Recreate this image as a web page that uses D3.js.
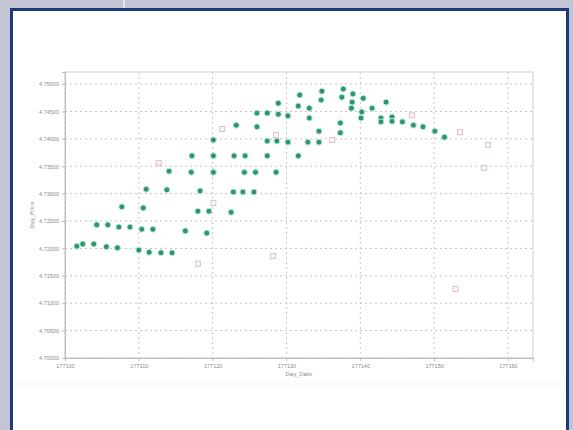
<!DOCTYPE html>
<html><head><meta charset="utf-8">
<script src="https://cdn.jsdelivr.net/npm/d3@7"></script>
<style>
html,body{margin:0;padding:0;background:#c3c5d5;}
svg{display:block;font-family:"DejaVu Sans",sans-serif;}
</style></head>
<body>
<svg id="chart" width="573" height="430"></svg>
<script>
// ---- data ----
const xTicks = [177100, 177110, 177120, 177130, 177140, 177150, 177160];
const yTicks = [4.700, 4.705, 4.710, 4.715, 4.720, 4.725, 4.730, 4.735, 4.740, 4.745, 4.750];
const xTitle = "Day_Date";
const yTitle = "Day_Price";
// main series (green)
const mainX = [177131.8,177128.9,177131.6,177133.1,177126.0,177127.4,177128.9,177130.2,177133.1,177123.2,
  177126.0,177120.1,177127.4,177128.7,177130.2,177132.9,177117.2,177120.1,177122.9,177124.4,
  177127.4,177131.6,177114.1,177117.1,177120.1,177124.3,177125.8,177128.6,177111.0,177113.8,
  177118.3,177122.8,177124.1,177125.6,177107.7,177110.6,177118.0,177119.5,177122.5,177104.3,
  177105.8,177107.3,177108.8,177110.4,177111.9,177116.3,177119.2,177102.4,177103.9,177105.6,
  177107.1,177110.0,177111.4,177113.0,177114.5,177101.6,177134.8,177134.7,177137.7,177137.5,
  177139.0,177138.9,177140.4,177138.8,177140.2,177141.6,177143.5,177140.1,177137.3,177134.4,
  177137.3,177142.8,177142.8,177144.3,177144.3,177145.7,177147.2,177148.5,177150.1,177151.4,
  177134.4];
const mainY = [4.7480,4.7465,4.7460,4.7456,4.7447,4.7447,4.7445,4.7442,4.7438,4.7425,
  4.7422,4.7398,4.7396,4.7396,4.7394,4.7394,4.7369,4.7369,4.7369,4.7369,
  4.7369,4.7369,4.7341,4.7339,4.7339,4.7339,4.7339,4.7339,4.7308,4.7307,
  4.7305,4.7303,4.7303,4.7303,4.7276,4.7274,4.7268,4.7268,4.7266,4.7243,
  4.7243,4.7239,4.7239,4.7235,4.7235,4.7232,4.7228,4.7208,4.7208,4.7203,
  4.7201,4.7197,4.7193,4.7192,4.7192,4.7204,4.7487,4.7471,4.7491,4.7476,
  4.7482,4.7467,4.7474,4.7456,4.7449,4.7456,4.7467,4.7438,4.7429,4.7414,
  4.7411,4.7438,4.7431,4.7440,4.7432,4.7431,4.7425,4.7422,4.7414,4.7403,
  4.7394];
// secondary series (pale pink, hollow)
const otherX = [177121.3,177128.6,177112.7,177120.1,177118.0,177128.2,177136.2,177147.0,177153.5,177157.3,177156.8,177152.9];
const otherY = [4.7418,4.7407,4.7356,4.7283,4.7172,4.7186,4.7398,4.7443,4.7412,4.7389,4.7347,4.7126];

// ---- drawing ----
const svg = d3.select("#chart");
// panel
svg.append("line").attr("x1",124).attr("x2",124).attr("y1",0).attr("y2",9)
  .attr("stroke","#e4e5ee").attr("stroke-width",2);
svg.append("rect").attr("x",11.5).attr("y",9.5).attr("width",556).attr("height",440)
  .attr("fill","#ffffff").attr("stroke","#1d3a78").attr("stroke-width",3);
svg.append("rect").attr("x",13).attr("y",380).attr("width",553).attr("height",7).attr("fill","#fcfcfc");

const L=65, R=533, T=72, B=358;
const x = d3.scaleLinear().domain([177100, 177163.4]).range([L, R]);
const y = d3.scaleLinear().domain([4.700, 4.7522]).range([B, T]);

const g = svg.append("g");
// grid
g.append("g").selectAll("line").data(yTicks).join("line")
  .attr("x1",L).attr("x2",R).attr("y1",d=>y(d)).attr("y2",d=>y(d))
  .attr("stroke","#c4c4c4").attr("stroke-width",1).attr("stroke-dasharray","2,3");
g.append("g").selectAll("line").data(xTicks).join("line")
  .attr("y1",T).attr("y2",B).attr("x1",d=>x(d)).attr("x2",d=>x(d))
  .attr("stroke","#c4c4c4").attr("stroke-width",1).attr("stroke-dasharray","2,3");
// frame
g.append("rect").attr("x",L).attr("y",T).attr("width",R-L).attr("height",B-T)
  .attr("fill","none").attr("stroke","#cfcfcf");

// axes
const xAxis = d3.axisBottom(x).tickValues(xTicks).tickFormat(d3.format("d")).tickSize(3).tickPadding(3);
const yAxis = d3.axisLeft(y).tickValues(yTicks).tickFormat(d3.format(".5f")).tickSize(3).tickPadding(3);
const gx = g.append("g").attr("transform",`translate(0,${B})`).call(xAxis);
const gy = g.append("g").attr("transform",`translate(${L},0)`).call(yAxis);
[gx,gy].forEach(a=>{
  a.select(".domain").attr("stroke","#bdbdbd");
  a.selectAll(".tick line").attr("stroke","#bdbdbd");
  a.selectAll(".tick text").attr("fill","#8a8a8a").attr("font-size",5.5);
});
g.append("text").attr("x",(L+R)/2).attr("y",376).attr("text-anchor","middle")
  .attr("font-size",5.5).attr("fill","#8a8a8a").text(xTitle);
g.append("text").attr("transform",`translate(34,${(T+B)/2}) rotate(-90)`).attr("text-anchor","middle")
  .attr("font-size",5.5).attr("fill","#8a8a8a").text(yTitle);

// secondary points
const other = d3.zip(otherX, otherY);
g.append("g").selectAll("rect").data(other).join("rect")
  .attr("x",d=>x(d[0])-2.5).attr("y",d=>y(d[1])-2.5).attr("width",5).attr("height",5)
  .attr("fill","#fbf5f6").attr("stroke","#dcc2c8").attr("stroke-width",1);
// main points
const main = d3.zip(mainX, mainY);
g.append("g").selectAll("circle").data(main).join("circle")
  .attr("cx",d=>x(d[0])).attr("cy",d=>y(d[1])).attr("r",3)
  .attr("fill","#2e966a").attr("stroke","#c6efe2").attr("stroke-width",1);
</script>
</body></html>
